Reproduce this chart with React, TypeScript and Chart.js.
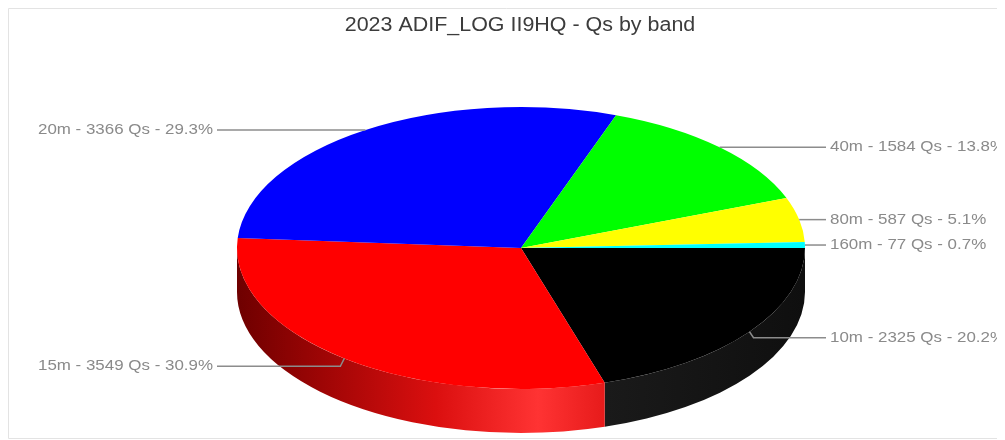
import React, { useEffect, useRef } from 'react';
import { Chart, registerables } from 'chart.js';

Chart.register(...registerables);

const TITLE = '2023 ADIF_LOG II9HQ - Qs by band';
const bands = ['10m', '15m', '20m', '40m', '80m', '160m'];
const qsCounts = [2325, 3549, 3366, 1584, 587, 77];
const sliceColors = ['#000000', '#ff0000', '#0000ff', '#00ff00', '#ffff00', '#00ffff'];

const CANVAS_W = 997;
const CANVAS_H = 432;
const RADIUS = 284; // horizontal radius of the pie
const TILT = 0.4965; // vertical squash of the top face
const DEPTH = 44; // thickness of the pie wall
const FONT = '"Liberation Sans", Arial, Helvetica, sans-serif';
const TEXT_STRETCH = 1.1;
const LABEL_COLOR = '#8a8a8a';
const LINE_COLOR = '#8c8c8c';

// lighting across the wall, left (dark) to right: [position, multiply, add white]
const wallLight: [number, number, number][] = [
  [0, 0.43, 0],
  [0.15, 0.6, 0.02],
  [0.35, 0.8, 0.06],
  [0.53, 1.0, 0.2],
  [0.65, 0.8, 0.1],
  [1, 0.6, 0.06],
];

function hexToRgb(hex: string): number[] {
  const h = hex.replace('#', '');
  return [0, 2, 4].map((i) => parseInt(h.slice(i, i + 2), 16));
}

function shade(rgb: number[], mul: number, add: number): string {
  const c = rgb.map((v) => Math.max(0, Math.min(255, Math.round(v * mul + 255 * add))));
  return `rgb(${c[0]},${c[1]},${c[2]})`;
}

function stretchedText(ctx: CanvasRenderingContext2D, text: string, x: number, y: number) {
  ctx.save();
  ctx.translate(x, y);
  ctx.scale(TEXT_STRETCH, 1);
  ctx.fillText(text, 0, 0);
  ctx.restore();
}

const total = qsCounts.reduce((a, b) => a + b, 0);

const pie3d = {
  id: 'pie3d',
  beforeDraw(chart: any) {
    const ctx: CanvasRenderingContext2D = chart.ctx;
    ctx.save();
    ctx.strokeStyle = '#e3e3e3';
    ctx.lineWidth = 1;
    ctx.beginPath();
    ctx.moveTo(CANVAS_W, 0.5);
    ctx.lineTo(0.5, 0.5);
    ctx.lineTo(0.5, 430.5);
    ctx.lineTo(CANVAS_W, 430.5);
    ctx.stroke();

    ctx.fillStyle = '#3c3c3c';
    ctx.font = `19.5px ${FONT}`;
    ctx.textAlign = 'center';
    ctx.textBaseline = 'middle';
    stretchedText(ctx, TITLE, 512, 18);
    ctx.restore();
  },
  beforeDatasetsDraw(chart: any) {
    const ctx: CanvasRenderingContext2D = chart.ctx;
    const arcs = chart.getDatasetMeta(0).data;
    if (!arcs.length) return;
    const { x: cx, y: cy, outerRadius: r } = arcs[0].getProps(['x', 'y', 'outerRadius'], true);
    const ry = r * TILT;

    // front wall of each slice
    arcs.forEach((arc: any, i: number) => {
      const { startAngle, endAngle } = arc.getProps(['startAngle', 'endAngle'], true);
      const a1 = Math.max(startAngle, 0);
      const a2 = Math.min(endAngle, Math.PI);
      if (a2 <= a1) return;
      const rgb = hexToRgb(sliceColors[i]);
      const grad = ctx.createLinearGradient(cx - r, 0, cx + r, 0);
      wallLight.forEach(([p, m, a]) => grad.addColorStop(p, shade(rgb, m, a)));
      ctx.save();
      ctx.fillStyle = grad;
      ctx.beginPath();
      ctx.ellipse(cx, cy, r, ry, 0, a1, a2, false);
      ctx.ellipse(cx, cy + DEPTH, r, ry, 0, a2, a1, true);
      ctx.closePath();
      ctx.fill();
      ctx.restore();
    });

    // squash the top face drawn by the pie controller
    ctx.save();
    ctx.translate(0, cy);
    ctx.scale(1, TILT);
    ctx.translate(0, -cy);
  },
  afterDatasetsDraw(chart: any) {
    const ctx: CanvasRenderingContext2D = chart.ctx;
    ctx.restore();
  },
  afterDraw(chart: any) {
    const ctx: CanvasRenderingContext2D = chart.ctx;
    const arcs = chart.getDatasetMeta(0).data;
    ctx.save();
    ctx.font = `15.4px ${FONT}`;
    ctx.textBaseline = 'middle';
    arcs.forEach((arc: any, i: number) => {
      const { x: cx, y: cy, outerRadius: r, startAngle, endAngle } = arc.getProps(
        ['x', 'y', 'outerRadius', 'startAngle', 'endAngle'],
        true
      );
      const mid = (startAngle + endAngle) / 2;
      const ax = cx + r * Math.cos(mid);
      const ay = cy + r * TILT * Math.sin(mid);
      const ly = ay + Math.max(0, Math.sin(mid)) * 10;
      const right = Math.cos(mid) >= 0;
      const pct = ((qsCounts[i] / total) * 100).toFixed(1);
      const text = `${bands[i]} - ${qsCounts[i]} Qs - ${pct}%`;

      ctx.strokeStyle = LINE_COLOR;
      ctx.lineWidth = 1.5;
      ctx.beginPath();
      ctx.moveTo(ax, ay);
      if (right) {
        if (ly !== ay) ctx.lineTo(ax + 4, ly);
        ctx.lineTo(cx + r + 21, ly);
      } else {
        if (ly !== ay) ctx.lineTo(ax - 4, ly);
        ctx.lineTo(cx - r - 20, ly);
      }
      ctx.stroke();

      ctx.fillStyle = LABEL_COLOR;
      ctx.textAlign = right ? 'left' : 'right';
      stretchedText(ctx, text, right ? cx + r + 25 : cx - r - 24, ly);
    });
    ctx.restore();
  },
};

export default function App() {
  const canvasRef = useRef<HTMLCanvasElement>(null);

  useEffect(() => {
    document.documentElement.style.overflow = 'hidden';
    const canvas = canvasRef.current;
    if (!canvas) return;
    const chart = new Chart(canvas, {
      type: 'pie',
      data: {
        labels: bands,
        datasets: [
          {
            data: qsCounts,
            backgroundColor: sliceColors,
            borderWidth: 0,
            clip: false,
          } as any,
        ],
      },
      options: {
        responsive: false,
        animation: false,
        events: [],
        rotation: 90,
        radius: RADIUS,
        layout: { padding: { left: 29, right: 0, top: 48, bottom: 0 } },
        plugins: {
          legend: { display: false },
          title: { display: false },
          tooltip: { enabled: false },
        },
      } as any,
      plugins: [pie3d],
    });
    return () => chart.destroy();
  }, []);

  return <canvas ref={canvasRef} width={CANVAS_W} height={CANVAS_H} style={{ display: 'block' }} />;
}
